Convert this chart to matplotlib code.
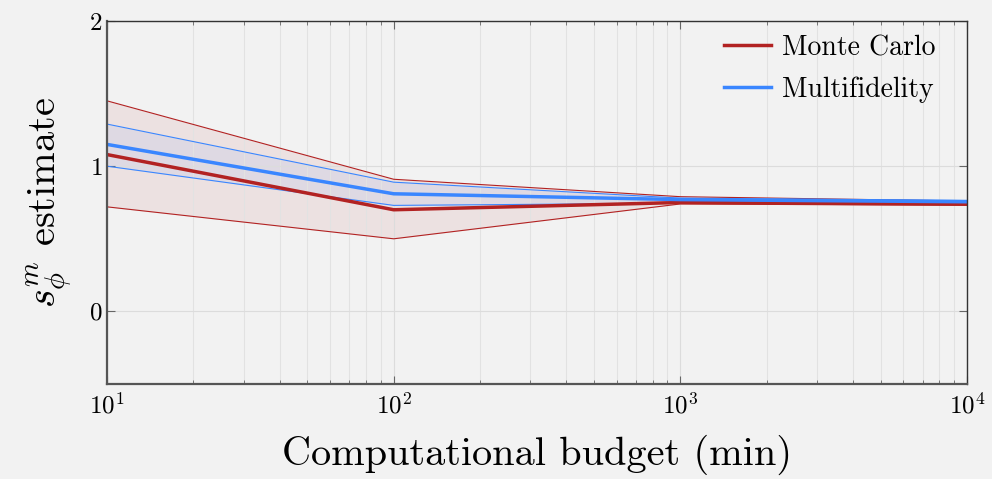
import numpy as np
import matplotlib.pyplot as plt

plt.rcParams['font.family'] = 'serif'
plt.rcParams['font.serif'] = ['cmr10', 'DejaVu Serif']
plt.rcParams['mathtext.fontset'] = 'cm'
plt.rcParams['axes.formatter.use_mathtext'] = True

budget = [10, 100, 1000, 10000]
mc_mean = [1.08, 0.70, 0.75, 0.74]
mc_upper = [1.45, 0.91, 0.79, 0.76]
mc_lower = [0.72, 0.50, 0.74, 0.73]
mf_mean = [1.15, 0.81, 0.77, 0.755]
mf_upper = [1.29, 0.89, 0.78, 0.765]
mf_lower = [1.00, 0.73, 0.745, 0.75]

red = '#b22222'
blue = '#3a86ff'
bg = '#f2f2f2'

fig = plt.figure(figsize=(9.92, 4.79), dpi=100, facecolor=bg)
ax = fig.add_axes([0.1079, 0.1983, 0.8669, 0.7579], facecolor=bg)

ax.fill_between(budget, mc_lower, mc_upper, color=red, alpha=0.08, lw=0)
ax.plot(budget, mc_upper, color=red, lw=0.8)
ax.plot(budget, mc_lower, color=red, lw=0.8)
ax.fill_between(budget, mf_lower, mf_upper, color=blue, alpha=0.08, lw=0)
ax.plot(budget, mf_upper, color=blue, lw=0.8)
ax.plot(budget, mf_lower, color=blue, lw=0.8)
ax.plot(budget, mc_mean, color=red, lw=2.5, label='Monte Carlo')
ax.plot(budget, mf_mean, color=blue, lw=2.5, label='Multifidelity')

ax.set_xscale('log')
ax.set_xlim(10, 10000)
ax.set_ylim(-0.5, 2)
ax.set_yticks([0, 1, 2])
ax.grid(True, which='major', color='#dcdcdc', lw=0.8)
ax.grid(True, which='minor', axis='x', color='#e2e2e2', lw=0.8)
ax.tick_params(which='both', direction='in', top=True, right=True, labelsize=18, color='#666666')
ax.tick_params(which='major', length=6)
ax.tick_params(which='minor', length=3)
ax.tick_params(axis='x', pad=6)
for side in ['left', 'bottom']:
    ax.spines[side].set_color('#555555')
    ax.spines[side].set_linewidth(1.6)
for side in ['top', 'right']:
    ax.spines[side].set_color('#333333')
    ax.spines[side].set_linewidth(1.0)

ax.set_xlabel('Computational budget (min)', fontsize=29, labelpad=12)
ax.set_ylabel(r'$s_\phi^m$ estimate', fontsize=29, labelpad=10)

leg = ax.legend(loc='upper right', bbox_to_anchor=(0.98, 1.0), frameon=False,
                fontsize=20, handlelength=1.7, handletextpad=0.4,
                borderaxespad=0.1, labelspacing=0.55)

fig.savefig('out.png', dpi=100, facecolor=bg)
